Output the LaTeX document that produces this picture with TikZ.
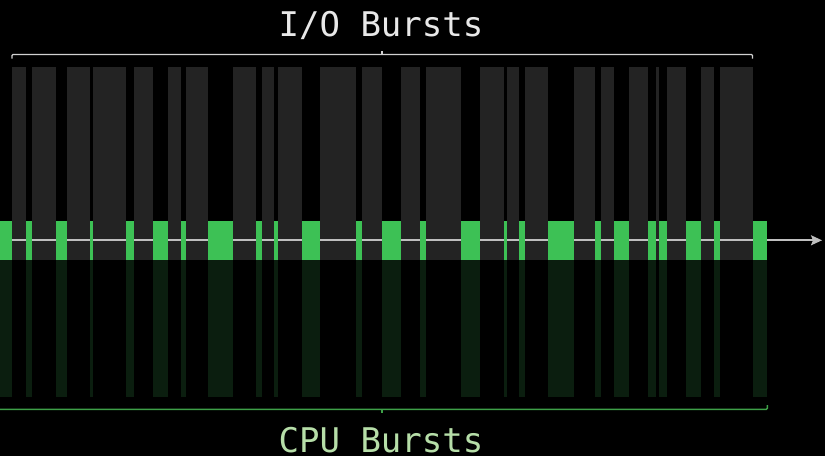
\documentclass[tikz,border=0pt]{standalone}
\usepackage{fontspec}
\setmonofont{DejaVu Sans Mono}
\usetikzlibrary{arrows.meta,positioning}

\definecolor{cpugreen}{RGB}{61,193,85}
\definecolor{cpushade}{RGB}{11,30,15}
\definecolor{cpuline}{RGB}{62,160,72}
\definecolor{cputext}{RGB}{182,222,168}
\definecolor{iogray}{RGB}{35,35,35}
\definecolor{iotext}{RGB}{232,232,232}

\tikzset{
  axis/.style={draw=white!75!black, line width=1.8pt, -{Stealth[length=11pt,width=10pt,inset=2pt]}},
  iobrace/.style={draw=white!82!black, line width=1.4pt, rounded corners=1pt},
  cpubrace/.style={draw=cpuline, line width=1.4pt, rounded corners=1pt},
  iolabel/.style={text=iotext, font=\ttfamily\fontsize{34}{40}\selectfont, inner sep=0pt},
  cpulabel/.style={text=cputext, font=\ttfamily\fontsize{34}{40}\selectfont, inner sep=0pt}
}

\begin{document}
\begin{tikzpicture}[x=1pt,y=-1pt]
\fill[black] (0,0) rectangle (825,456);
\useasboundingbox (0,0) rectangle (825,456);

% I/O bursts: gray bars between the CPU bursts
\foreach \a/\b in {12/26.3,32.3/56,67/89.7,92.7/126.3,133.7/153,167.7/181,186.3/208,
  233.3/256,262.3/274,277.7/301.7,320.3/356.3,361.7/382.3,401/420,425.7/461,480.3/504.3,
  507/519.3,525.3/548.3,574/595.3,600.7/614,628.7/648,656/659.3,667/686,701/714.3,720/752.7}
  \fill[iogray] (\a,67) rectangle (\b,260);

% time axis
\coordinate (t0) at (0,240.3);
\coordinate (t1) at (822,240.3);
\draw[axis] (t0) -- (t1);

% CPU bursts and their shadows
\foreach \a/\b in {0/12,26.3/32.3,56/67,89.7/92.7,126.3/133.7,153/167.7,181/186.3,208/233.3,
  256/262.3,274/277.7,301.7/320.3,356.3/361.7,382.3/401,420/425.7,461/480.3,504.3/507,
  519.3/525.3,548.3/574,595.3/600.7,614/628.7,648/656,659.3/667,686/701,714.3/720,752.7/767.3}{
  \fill[cpugreen] (\a,221) rectangle (\b,260);
  \fill[cpushade] (\a,260) rectangle (\b,397);
}

% braces
\draw[iobrace] (12,58.5) -- (12,54.5) -- (752.5,54.5) -- (752.5,58.5);
\draw[iobrace] (382,54.5) -- (382,50.5);
\draw[cpubrace] (-2,409.3) -- (767.3,409.3) -- (767.3,405);
\draw[cpubrace] (382,409.3) -- (382,413.3);

\node[iolabel, anchor=base] (iotitle) at (381,36.7) {I/O Bursts};
\node[cpulabel, anchor=base] (cputitle) at (381,452.5) {CPU Bursts};
\end{tikzpicture}
\end{document}
